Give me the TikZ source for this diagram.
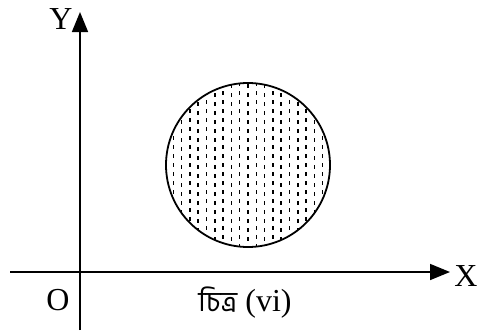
\documentclass[tikz,border=0pt]{standalone}
\usepackage{fontspec}
\setmainfont{Liberation Serif}
\newfontfamily\bnfont[Script=Bengali]{Hind Siliguri}
\usetikzlibrary{arrows.meta,calc}
\begin{document}
\begin{tikzpicture}[x=1pt,y=-1pt,
  axis/.style={line width=1.6pt,-{Triangle[length=20pt,width=16pt]}},
  lbl/.style={font=\fontsize{32}{34}\selectfont,inner sep=0pt}]
\useasboundingbox (0,0) rectangle (489,330);
\coordinate (xs) at (10,272);
\coordinate (xe) at (450,272);
\coordinate (ys) at (80,330);
\coordinate (ye) at (80,12);
\draw[axis] (xs) -- (xe);
\draw[axis] (ys) -- (ye);
\node[lbl] (X) at (466,276) {X};
\node[lbl] (Y) at (61,19) {Y};
\node[lbl] (O) at (58,300) {O};
\node[lbl,anchor=base] (cap) at (245,311) {{\bnfont\fontsize{28}{30}\selectfont চিত্র} (vi)};
\coordinate (c) at (248,165);
\begin{scope}
\clip (c) circle (82);
\foreach \k in {-10,...,10}{
  \pgfmathsetmacro{\ph}{mod(abs(\k),2)*2}
  \draw[line width=1.5pt,dash pattern=on 3.5pt off 5.5pt,dash phase=\ph pt]
    ($(c)+(\k*8.3,-90)$) -- ($(c)+(\k*8.3,90)$);
}
\end{scope}
\draw[line width=1.8pt] (c) circle (82);
\end{tikzpicture}
\end{document}
